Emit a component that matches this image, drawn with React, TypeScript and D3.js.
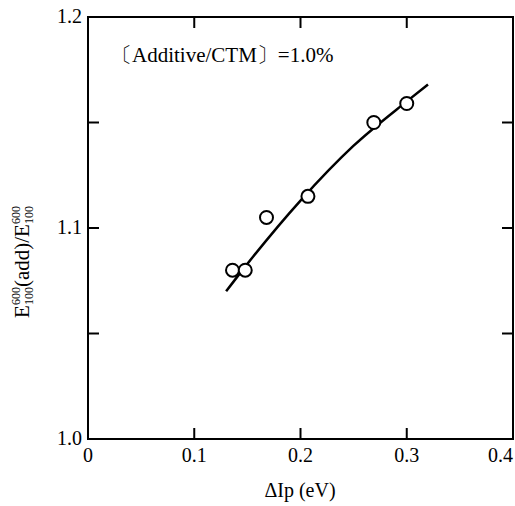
import * as d3 from "d3";
import React from "react";

// measured points (ΔIp, ratio)
const ipValues = [0.136, 0.148, 0.168, 0.207, 0.269, 0.3];
const ratioValues = [1.080, 1.080, 1.105, 1.115, 1.150, 1.159];

// fitted curve as drawn in the figure
const curveX = [0.13, 0.15, 0.2, 0.25, 0.3, 0.32];
const curveY = [1.070, 1.083, 1.113, 1.139, 1.160, 1.168];

const xTicks = [0, 0.1, 0.2, 0.3, 0.4];
const xTickLabels = ["0", "0.1", "0.2", "0.3", "0.4"];
const yTicks = [1.0, 1.05, 1.1, 1.15, 1.2];
const yTickLabels = ["1.0", "", "1.1", "", "1.2"];

const font = "Liberation Serif, Times New Roman, DejaVu Serif, serif";

export default function App() {
  const W = 515, H = 506;
  const left = 88, right = 513, top = 17, bottom = 439;

  const x = d3.scaleLinear().domain([0, 0.4]).range([left, right]);
  const y = d3.scaleLinear().domain([1.0, 1.2]).range([bottom, top]);

  const line = d3.line<number>()
    .x((d, i) => x(curveX[i]))
    .y((d, i) => y(curveY[i]))
    .curve(d3.curveMonotoneX);

  const tickLen = 11;

  return (
    <svg width={W} height={H}
      style={{ position: "absolute", left: 0, top: 0, background: "#fff", fontFamily: font }}>
      <rect x={left} y={top} width={right - left} height={bottom - top}
        fill="none" stroke="#000" strokeWidth={2} />

      {/* x ticks, bottom and top, pointing inward */}
      {xTicks.slice(1, -1).map(t => (
        <g key={"xt" + t}>
          <line x1={x(t)} x2={x(t)} y1={bottom} y2={bottom - tickLen} stroke="#000" strokeWidth={2} />
          <line x1={x(t)} x2={x(t)} y1={top} y2={top + tickLen} stroke="#000" strokeWidth={2} />
        </g>
      ))}
      {xTicks.map((t, i) => (
        <text key={"xl" + t} x={x(t)} y={462} fontSize={20}
          textAnchor={i === xTicks.length - 1 ? "end" : "middle"}>{xTickLabels[i]}</text>
      ))}

      {/* y ticks, left and right */}
      {yTicks.slice(1, -1).map(t => (
        <g key={"yt" + t}>
          <line x1={left} x2={left + tickLen} y1={y(t)} y2={y(t)} stroke="#000" strokeWidth={2} />
          <line x1={right} x2={right - tickLen} y1={y(t)} y2={y(t)} stroke="#000" strokeWidth={2} />
        </g>
      ))}
      {yTicks.map((t, i) => (
        <text key={"yl" + t} x={82} y={y(t) + 6} fontSize={20} textAnchor="end">{yTickLabels[i]}</text>
      ))}

      <path d={line(curveX) || ""} fill="none" stroke="#000" strokeWidth={2.5} />

      {ipValues.map((v, i) => (
        <circle key={"p" + i} cx={x(v)} cy={y(ratioValues[i])} r={6.5}
          fill="#fff" stroke="#000" strokeWidth={2} />
      ))}

      <text x={111} y={62} fontSize={21}>〔Additive/CTM〕=1.0%</text>

      <text x={300} y={497} fontSize={20} textAnchor="middle">ΔIp (eV)</text>

      <g transform="translate(29,262) rotate(-90)">
        <text x={0} y={0} fontSize={21} textAnchor="middle">
          E<tspan fontSize={12} dy={-9}>600</tspan>
          <tspan fontSize={12} dx={-18} dy={13}>100</tspan>
          <tspan dy={-4}>(add)/E</tspan>
          <tspan fontSize={12} dy={-9}>600</tspan>
          <tspan fontSize={12} dx={-18} dy={13}>100</tspan>
        </text>
      </g>
    </svg>
  );
}
